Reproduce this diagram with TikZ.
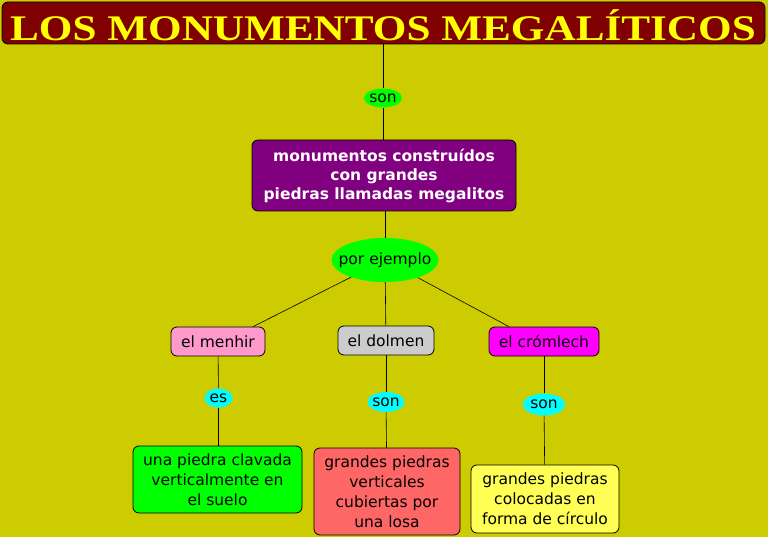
\documentclass[tikz,border=0pt]{standalone}
\usepackage{fontspec}
\setmainfont{DejaVu Sans}
\newfontfamily\titlefont{Liberation Serif}
\usetikzlibrary{shapes.geometric}
\definecolor{bgc}{HTML}{CCCC00}
\definecolor{titlec}{HTML}{800000}
\definecolor{titletext}{HTML}{FFFF00}
\definecolor{purplec}{HTML}{800080}
\definecolor{greenc}{HTML}{00FF00}
\definecolor{cyanc}{HTML}{00FFFF}
\definecolor{pinkc}{HTML}{FF99CC}
\definecolor{grayc}{HTML}{CCCCCC}
\definecolor{magc}{HTML}{FF00FF}
\definecolor{redc}{HTML}{FF6666}
\definecolor{yellc}{HTML}{FFFF55}
\begin{document}
\begin{tikzpicture}[x=1pt,y=-1pt,
  conc/.style={draw=black, rounded corners=6pt, line width=0.8pt, font=\fontsize{15.5pt}{20pt}\selectfont, align=center, inner sep=0pt},
  link/.style={ellipse, inner sep=0pt},
  linktext/.style={inner sep=0pt, font=\fontsize{15.5pt}{16pt}\selectfont},
  conn/.style={draw=black, line width=0.6pt}]
\fill[bgc] (0,0) rectangle (768,537);
\useasboundingbox (0,0) rectangle (768,537);
% title
\node[draw=black, fill=titlec, rounded corners=6pt, line width=0.8pt, minimum width=763pt, minimum height=42pt, inner sep=0pt] (title) at (383.5,23) {};
\node[text=titletext, inner sep=0pt, xscale=1.2] (titletxt) at (383,25) {\titlefont\bfseries\fontsize{36pt}{38pt}\selectfont LOS MONUMENTOS MEGALÍTICOS};
% nodes
\node[link, fill=greenc, minimum width=38pt, minimum height=19pt] (son1) at (383,98) {};
\node[linktext] (son1t) at (son1) {son};
\node[conc, fill=purplec, text=white, font=\bfseries\fontsize{15.5pt}{19pt}\selectfont, minimum width=264pt, minimum height=71pt] (mono) at (384,175.5) {monumentos construídos\\con grandes\\piedras llamadas megalitos};
\node[link, fill=greenc, minimum width=107pt, minimum height=44pt] (ej) at (385,260) {};
\node[linktext] (ejt) at (ej) {por ejemplo};
\node[conc, fill=pinkc, minimum width=94pt, minimum height=29pt] (menhir) at (218,341.5) {el menhir};
\node[conc, fill=grayc, minimum width=96pt, minimum height=29pt] (dolmen) at (386,340.5) {el dolmen};
\node[conc, fill=magc, minimum width=110pt, minimum height=29pt] (crom) at (544,341.5) {el crómlech};
\node[link, fill=cyanc, minimum width=28pt, minimum height=19pt] (es) at (218.5,398) {};
\node[linktext] (est) at (es) {es};
\node[link, fill=cyanc, minimum width=37pt, minimum height=20pt] (son2) at (386,402) {};
\node[linktext] (son2t) at (son2) {son};
\node[link, fill=cyanc, minimum width=42pt, minimum height=22pt] (son3) at (544,404.5) {};
\node[linktext] (son3t) at (son3) {son};
\node[conc, fill=greenc, minimum width=169pt, minimum height=67pt] (b1) at (217.5,479.5) {una piedra clavada\\verticalmente en\\el suelo};
\node[conc, fill=redc, minimum width=146pt, minimum height=87pt] (b2) at (387,491.5) {grandes piedras\\verticales\\cubiertas por\\una losa};
\node[conc, fill=yellc, minimum width=148pt, minimum height=68pt] (b3) at (545,499) {grandes piedras\\colocadas en\\forma de círculo};
% connectors
\draw[conn] (title.south -| son1) -- (son1);
\draw[conn] (son1) -- (mono.north -| son1);
\draw[conn] (mono.south -| ej) -- (ej);
\draw[conn] (ej) -- (menhir.23);
\draw[conn] (ej) -- (dolmen);
\draw[conn] (ej) -- (crom.157);
\draw[conn] (menhir) -- (es);
\draw[conn] (es) -- (b1.north -| es);
\draw[conn] (dolmen) -- (son2);
\draw[conn] (son2) -- (b2);
\draw[conn] (crom) -- (son3);
\draw[conn] (son3) -- (b3);
\end{tikzpicture}
\end{document}
